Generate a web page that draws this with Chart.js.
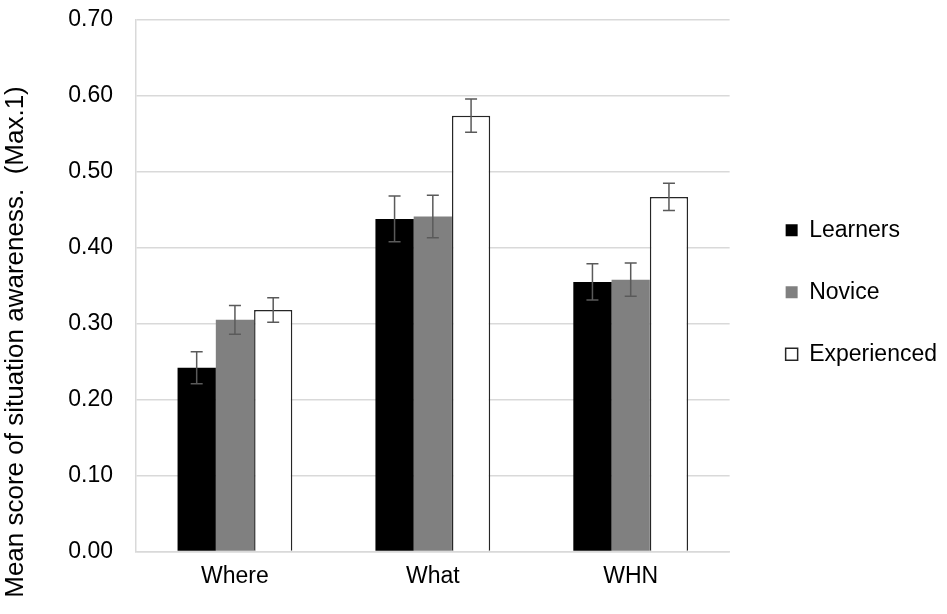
<!DOCTYPE html>
<html>
<head>
<meta charset="utf-8">
<script src="https://cdn.jsdelivr.net/npm/chart.js@4"></script>
<style>
  html, body { margin: 0; padding: 0; background: #fff; }
  #wrap { width: 947px; height: 614px; }
</style>
</head>
<body>
<div id="wrap"><canvas id="chart-sa" width="947" height="614"></canvas></div>
<script>
const categories = ['Where', 'What', 'WHN'];
const learners = [0.242, 0.438, 0.355];
const novice = [0.305, 0.441, 0.358];
const experienced = [0.318, 0.574, 0.467];
const learnersErr = [0.021, 0.030, 0.024];
const noviceErr = [0.019, 0.028, 0.022];
const experiencedErr = [0.016, 0.022, 0.018];
const yTitle = 'Mean score of situation awareness.  (Max.1)';

const FONT = '"Liberation Sans", Arial, sans-serif';

// error bars drawn from the y scale
const errorBars = {
  id: 'errorBars',
  afterDatasetsDraw(chart) {
    const ctx = chart.ctx;
    const y = chart.scales.y;
    ctx.save();
    ctx.strokeStyle = '#5a5a5a';
    ctx.lineWidth = 1.5;
    chart.data.datasets.forEach((ds, i) => {
      const meta = chart.getDatasetMeta(i);
      meta.data.forEach((bar, j) => {
        const v = ds.data[j], e = ds.errors[j];
        const top = y.getPixelForValue(v + e);
        const bot = y.getPixelForValue(v - e);
        ctx.beginPath();
        ctx.moveTo(bar.x, top); ctx.lineTo(bar.x, bot);
        ctx.moveTo(bar.x - 6, top); ctx.lineTo(bar.x + 6, top);
        ctx.moveTo(bar.x - 6, bot); ctx.lineTo(bar.x + 6, bot);
        ctx.stroke();
      });
    });
    ctx.restore();
  }
};

// rotated y title, sits a bit below the plot centre like the original
const sideTitle = {
  id: 'sideTitle',
  afterDraw(chart) {
    const ctx = chart.ctx;
    ctx.save();
    ctx.translate(16, 342);
    ctx.rotate(-Math.PI / 2);
    ctx.font = '26px ' + FONT;
    ctx.fillStyle = '#000';
    ctx.textAlign = 'center';
    ctx.textBaseline = 'middle';
    ctx.fillText(yTitle, 0, 0);
    ctx.restore();
  }
};

new Chart(document.getElementById('chart-sa'), {
  type: 'bar',
  data: {
    labels: categories,
    datasets: [
      { label: 'Learners', data: learners, errors: learnersErr,
        backgroundColor: '#000000', borderColor: '#000000', borderWidth: 0 },
      { label: 'Novice', data: novice, errors: noviceErr,
        backgroundColor: '#808080', borderColor: '#808080', borderWidth: 0 },
      { label: 'Experienced', data: experienced, errors: experiencedErr,
        backgroundColor: '#ffffff', borderColor: '#262626', borderWidth: 1.5 }
    ]
  },
  options: {
    responsive: false,
    animation: false,
    layout: { padding: { left: 69, top: 20, right: 0, bottom: 13 } },
    datasets: { bar: { categoryPercentage: 0.58, barPercentage: 1 } },
    scales: {
      x: {
        grid: { display: false, drawTicks: false },
        border: { color: '#d9d9d9', width: 1.5 },
        ticks: { color: '#000', font: { family: FONT, size: 23 }, padding: 11 }
      },
      y: {
        min: 0, max: 0.7,
        grid: { color: '#d9d9d9', lineWidth: 1.5, drawTicks: false },
        border: { color: '#d9d9d9', width: 1.5 },
        ticks: {
          stepSize: 0.1, color: '#000', padding: 23,
          font: { family: FONT, size: 23 },
          callback: v => v.toFixed(2)
        },
        afterFit: s => { s.width = 67; s.paddingTop = 0; s.paddingBottom = 0; }
      },
      // empty spacer between plot and legend
      gap: {
        position: 'right', type: 'linear',
        grid: { display: false }, border: { display: false },
        ticks: { display: false },
        afterFit: s => { s.width = 17; s.paddingTop = 0; s.paddingBottom = 0; }
      }
    },
    plugins: {
      tooltip: { enabled: false },
      legend: {
        position: 'right',
        fullSize: false,
        maxWidth: 240,
        // empty title just nudges the items down a little
        title: { display: true, text: '', padding: 0, font: { size: 10, lineHeight: 1.3 } },
        labels: {
          boxWidth: 12, boxHeight: 12, padding: 39, color: '#000',
          font: { family: FONT, size: 23 }
        }
      }
    }
  },
  plugins: [errorBars, sideTitle]
});
</script>
</body>
</html>
